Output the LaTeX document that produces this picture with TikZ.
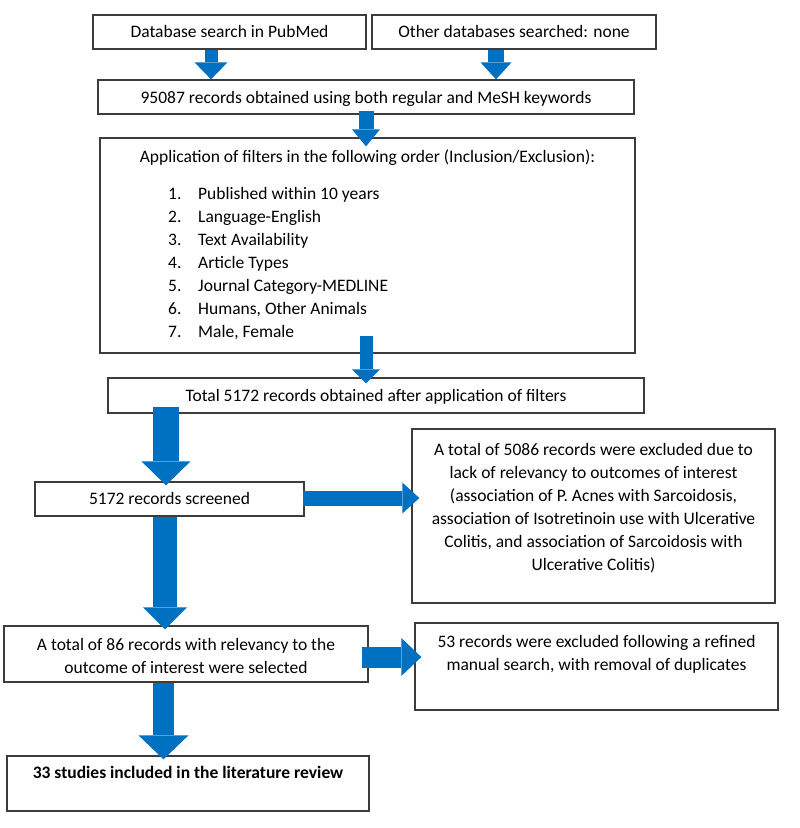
\documentclass[tikz,border=0pt]{standalone}
\usepackage{fontspec}
\setmainfont{Carlito}
\usetikzlibrary{arrows.meta,calc}
\definecolor{arrblue}{RGB}{0,112,192}
\definecolor{edgegray}{RGB}{60,60,60}
\begin{document}
\begin{tikzpicture}[x=1pt,y=-1pt,
  box/.style={draw=edgegray, line width=1.3pt, inner sep=0pt},
  txt/.style={inner sep=0pt, anchor=north, align=center, font=\fontsize{17.5}{23}\selectfont},
  barrow/.style n args={3}{draw=arrblue, line width=#1pt, -{Triangle[width=#2pt,length=#3pt,line width=0pt]}}
]
\useasboundingbox[fill=white] (0,0) rectangle (800,828);

% boxes
\node[box, minimum width=273pt, minimum height=34pt] (b1) at (229.5,32) {};
\node[box, minimum width=284pt, minimum height=34pt] (b2) at (514,32) {};
\node[box, minimum width=536pt, minimum height=34pt] (b3) at (366,97) {};
\node[box, minimum width=535pt, minimum height=215pt] (b4) at (367.5,245.5) {};
\node[box, minimum width=536pt, minimum height=35pt] (b5) at (376,395.5) {};
\node[box, minimum width=269pt, minimum height=34pt] (b6) at (169.5,499) {};
\node[box, minimum width=363pt, minimum height=174pt] (b7) at (593.5,516) {};
\node[box, minimum width=364pt, minimum height=56pt] (b8) at (186,654) {};
\node[box, minimum width=363pt, minimum height=87pt] (b9) at (596.5,666.5) {};
\node[box, minimum width=362pt, minimum height=55pt] (b10) at (188,783.5) {};

% texts
\node[txt] (t1) at (229.5,21.2) {\strut Database search in PubMed};
\node[txt] (t2) at (514,21.2) {\strut Other databases searched: none};
\node[txt] (t3) at (366,86.9) {\strut 95087 records obtained using both regular and MeSH keywords};
\node[txt] (t4) at (367.5,145.9) {\strut Application of filters in the following order (Inclusion/Exclusion):};
\node[txt, anchor=north west, align=left] (t4l) at (168,182.9) {%
  \begin{tabular}{@{}p{30pt}@{}l@{}}
  1. & Published within 10 years\\
  2. & Language-English\\
  3. & Text Availability\\
  4. & Article Types\\
  5. & Journal Category-MEDLINE\\
  6. & Humans, Other Animals\\
  7. & Male, Female
  \end{tabular}};
\node[txt] (t5) at (376,384.9) {\strut Total 5172 records obtained after application of filters};
\node[txt] (t6) at (169.5,488.4) {\strut 5172 records screened};
\node[txt] (t7) at (593.5,438.9) {\strut A total of 5086 records were excluded due to\\
  lack of relevancy to outcomes of interest\\
  (association of P. Acnes with Sarcoidosis,\\
  association of Isotretinoin use with Ulcerative\\
  Colitis, and association of Sarcoidosis with\\
  Ulcerative Colitis)};
\node[txt] (t8) at (186,633.9) {\strut A total of 86 records with relevancy to the\\
  outcome of interest were selected};
\node[txt] (t9) at (596.5,630.9) {\strut 53 records were excluded following a refined\\
  manual search, with removal of duplicates};
\node[txt, font=\fontsize{17.5}{23}\selectfont\bfseries] (t10) at (188,761.9) {\strut 33 studies included in the literature review};

% arrow guide coordinates
\coordinate (ax1) at (211,0);
\coordinate (ax2) at (496,0);
\coordinate (ax3) at (366,0);
\coordinate (ax5) at (166,0);
\coordinate (ax7) at (165,0);
\coordinate (ax9) at (163.5,0);
\coordinate (ay6) at (0,498);
\coordinate (ay8) at (0,657);

% arrows
\draw[barrow={13}{33}{17}] (b1.south -| ax1) -- (b3.north -| ax1);
\draw[barrow={16}{31}{17}] (b2.south -| ax2) -- (b3.north -| ax2);
\draw[barrow={15}{28}{17}] ($(b3.south -| ax3)+(0,-4)$) -- ($(b4.north -| ax3)+(0,9)$);
\draw[barrow={13}{28}{14}] ($(b4.south -| ax3)+(0,-18)$) -- ($(b5.north -| ax3)+(0,6)$);
\draw[barrow={26}{49}{24}] ($(b5.south -| ax5)+(0,-7)$) -- ($(b6.north -| ax5)+(0,4)$);
\draw[barrow={15}{31}{17}] ($(b6.east |- ay6)+(-2,0)$) -- ($(b7.west |- ay6)+(8,0)$);
\draw[barrow={24}{44}{22}] (b6.south -| ax7) -- ($(b8.north -| ax7)+(0,4)$);
\draw[barrow={21}{38}{20}] ($(b8.east |- ay8)+(-7,0)$) -- ($(b9.west |- ay8)+(7,0)$);
\draw[barrow={21}{50}{24}] (b8.south -| ax9) -- ($(b10.north -| ax9)+(0,4)$);
\end{tikzpicture}
\end{document}
